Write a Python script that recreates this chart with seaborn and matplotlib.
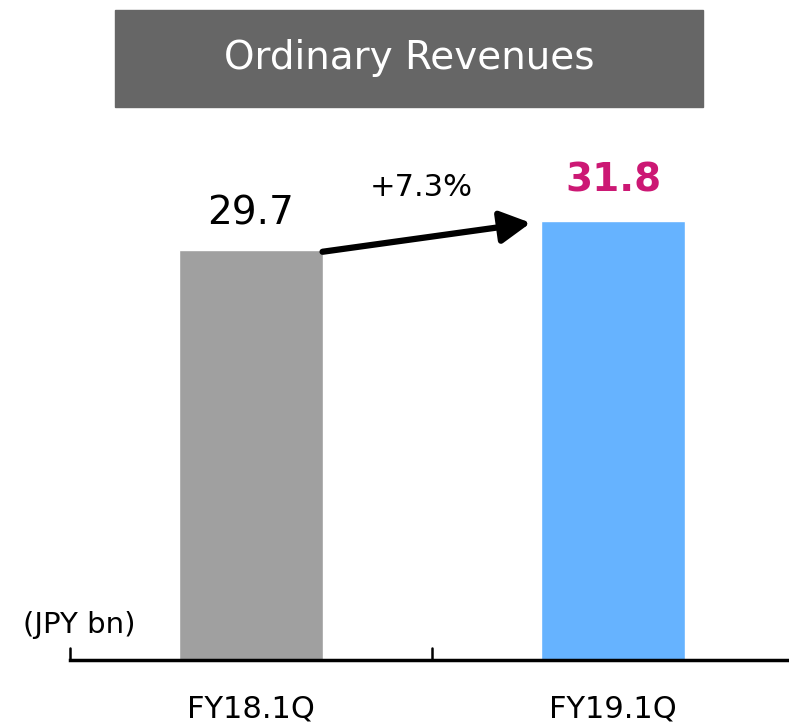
import pandas as pd
import seaborn as sns
from matplotlib import pyplot as plt
from matplotlib.patches import FancyArrowPatch

periods = ['FY18.1Q', 'FY19.1Q']
revenues = [29.7, 31.8]
bar_colors = ['#A0A0A0', '#66B3FF']
growth_label = '+7.3%'
title = 'Ordinary Revenues'
unit_label = '(JPY bn)'

df = pd.DataFrame({'period': periods, 'revenue': revenues})

sns.set_style('white')
plt.rcParams['font.family'] = ['DejaVu Sans']

fig = plt.figure(figsize=(7.89, 7.28), dpi=100)
ax = fig.add_axes([70 / 789, 68 / 728, 719 / 789, 530 / 728])

sns.barplot(data=df, x='period', y='revenue', hue='period', palette=bar_colors,
            width=0.4, legend=False, ax=ax, saturation=1)

ax.set_xlim(-0.5, 1.486)
ax.set_ylim(0, 38.4)
ax.set_xlabel('')
ax.set_ylabel('')
ax.set_yticks([])
for s in ['top', 'right', 'left']:
    ax.spines[s].set_visible(False)
ax.spines['bottom'].set_linewidth(2.5)
ax.spines['bottom'].set_color('black')

# ticks at category boundaries, labels centred under bars
ax.set_xticks([0, 1])
ax.set_xticklabels(periods, fontsize=22, color='black')
ax.tick_params(axis='x', length=0, pad=25)
for xb in [-0.5, 0.5]:
    ax.plot([xb, xb], [0, 0.85], color='black', lw=1.8, clip_on=False)

# value labels
ax.text(0, revenues[0] + 1.3, f'{revenues[0]:.1f}', ha='center', va='bottom',
        fontsize=28, color='black')
ax.text(1, revenues[1] + 1.55, f'{revenues[1]:.1f}', ha='center', va='bottom',
        fontsize=28, color='#CC1874', fontweight='bold')

# growth arrow
arr = FancyArrowPatch((0.19, revenues[0] - 0.15), (0.78, revenues[1] - 0.1),
                      arrowstyle='-|>,head_length=1.3,head_width=0.7',
                      mutation_scale=14, lw=4.5, color='black')
ax.add_patch(arr)
ax.text(0.47, 34.2, growth_label, ha='center', va='center', fontsize=22,
        color='black')

ax.text(-0.475, 2.55, unit_label, ha='center', va='center', fontsize=21,
        color='black', clip_on=False)

# title box
fig.text(409 / 789, 1 - 58 / 728, title, ha='center', va='center',
         fontsize=28, color='white')
fig.patches.append(plt.Rectangle((115 / 789, 1 - 107 / 728), 588 / 789, 97 / 728,
                                 transform=fig.transFigure, color='#666666',
                                 zorder=0))

fig.savefig('out.png', dpi=100)
